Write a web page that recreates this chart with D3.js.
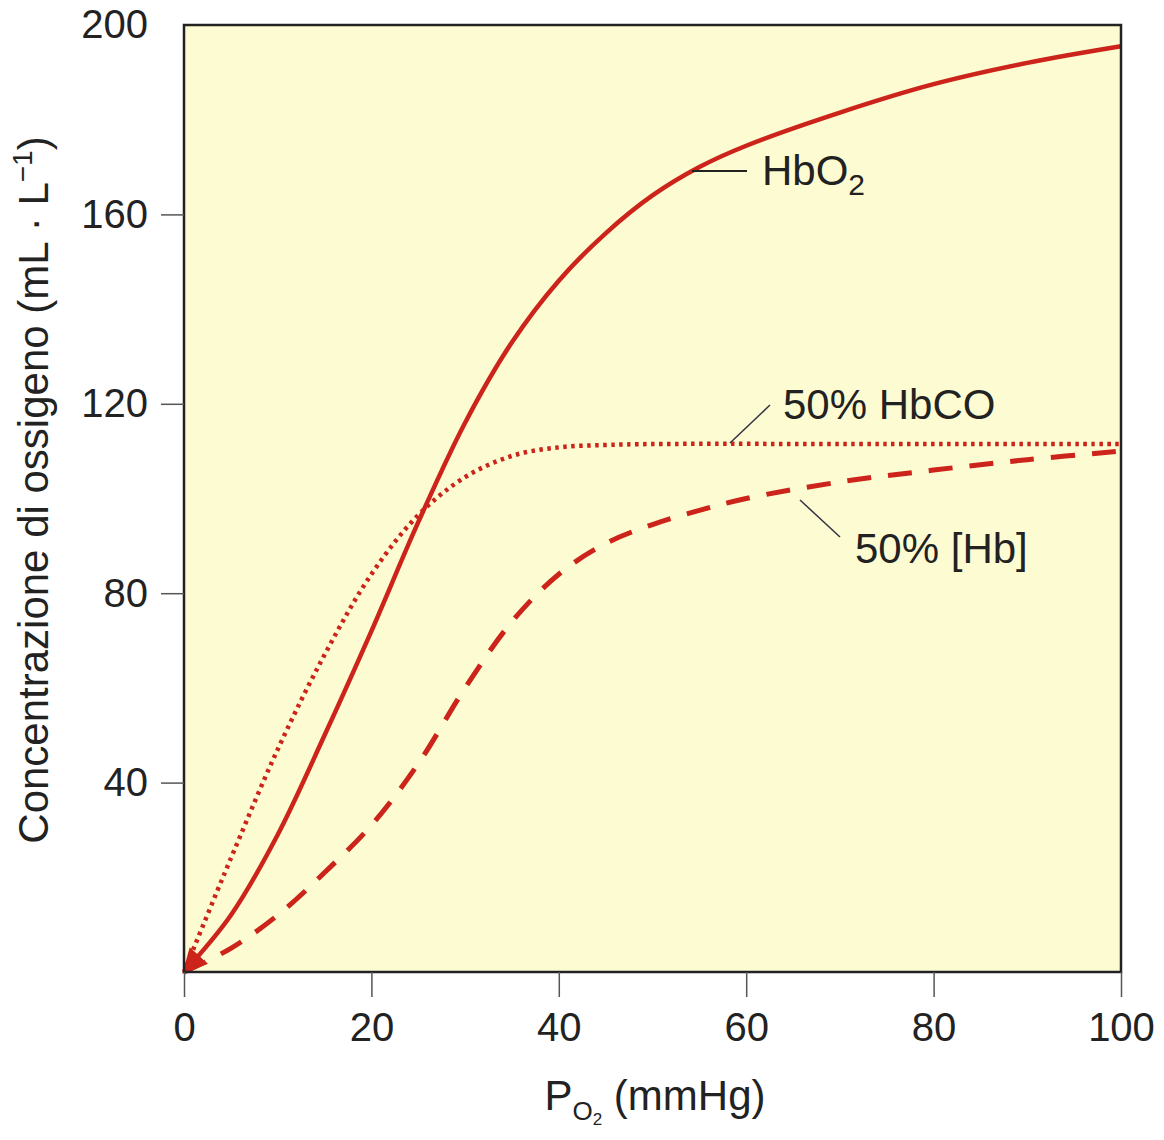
<!DOCTYPE html>
<html><head><meta charset="utf-8">
<script src="https://cdn.jsdelivr.net/npm/d3@7"></script>
<style>body{margin:0;background:#fff}</style>
</head><body>
<svg id="c" width="1164" height="1140"></svg>
<script>
const xTicks = [0, 20, 40, 60, 80, 100];
const yTicks = [40, 80, 120, 160, 200];
const hbo2 = [[0,0],[5,12],[10,29],[15,50],[20,72],[25,95],[30,116],[35,133],[40,146],[45,156],[50,164],[55,170],[60,174.5],[70,181.5],[80,187.5],[90,192],[100,195.5]];
const hbco = [[0,0],[5,24],[10,47],[15,67],[20,84],[25,96.5],[30,104.5],[35,109],[40,110.8],[45,111.3],[50,111.5],[75,111.5],[100,111.5]];
const hbHalf = [[0,0],[5,5],[10,12],[15,21],[20,31],[25,44],[30,60],[35,74],[40,84],[45,90.5],[50,94.5],[55,97.5],[60,100],[70,103.5],[80,106],[90,108.2],[100,110]];

const svg = d3.select("#c");
const L = 184, T = 25, R = 1121, B = 972;
const x = d3.scaleLinear().domain([0,100]).range([L,R]);
const y = d3.scaleLinear().domain([0,200]).range([B,T]);
const red = "#cc231b";
const font = "'Liberation Sans', Arial, sans-serif";

svg.append("rect").attr("x",L).attr("y",T).attr("width",R-L).attr("height",B-T).attr("fill","#fdfbd1");

const defs = svg.append("defs");
defs.append("marker").attr("id","arr").attr("viewBox","0 0 10 10").attr("refX",9).attr("refY",5)
  .attr("markerWidth",5.5).attr("markerHeight",5.5).attr("orient","auto-start-reverse")
  .attr("markerUnits","strokeWidth")
  .append("path").attr("d","M0,0 L10,5 L0,10 z").attr("fill",red);

const line = d3.line().x(d=>x(d[0])).y(d=>y(d[1])).curve(d3.curveCatmullRom.alpha(0.5));
svg.append("path").datum(hbHalf).attr("d",line).attr("fill","none").attr("stroke",red).attr("stroke-width",5).attr("stroke-dasharray","24,17");
svg.append("path").datum(hbco).attr("d",line).attr("fill","none").attr("stroke",red).attr("stroke-width",4.5).attr("stroke-dasharray","3.5,4.5");
svg.append("path").datum(hbo2).attr("d",line).attr("fill","none").attr("stroke",red).attr("stroke-width",4.5).attr("marker-start","url(#arr)");

// frame
svg.append("rect").attr("x",L).attr("y",T).attr("width",R-L).attr("height",B-T).attr("fill","none").attr("stroke","#222").attr("stroke-width",2.5);

// axes
const xa = svg.append("g").attr("transform",`translate(0,${B})`).call(d3.axisBottom(x).tickValues(xTicks).tickSize(25).tickPadding(16).tickFormat(d3.format("d")));
const ya = svg.append("g").attr("transform",`translate(${L},0)`).call(d3.axisLeft(y).tickValues(yTicks).tickSize(23).tickPadding(13).tickFormat(d3.format("d")));
[xa,ya].forEach(g=>{
  g.select(".domain").remove();
  g.selectAll(".tick line").attr("stroke","#555").attr("stroke-width",1.5);
  g.selectAll(".tick text").attr("font-family",font).attr("font-size",40).attr("fill","#222");
});
ya.selectAll(".tick").filter(d=>d===200).select("line").remove();

// axis titles
svg.append("text").attr("transform",`translate(48,${490}) rotate(-90)`).attr("text-anchor","middle")
  .attr("font-family",font).attr("font-size",42).attr("fill","#222")
  .html('Concentrazione di ossigeno (mL · L<tspan dy="-16" font-size="28">−1</tspan><tspan dy="16">)</tspan>');
svg.append("text").attr("x",655).attr("y",1110).attr("text-anchor","middle")
  .attr("font-family",font).attr("font-size",42).attr("fill","#222")
  .html('P<tspan dy="10" font-size="26">O</tspan><tspan dy="5" font-size="17">2</tspan><tspan dy="-15"> (mmHg)</tspan>');

// annotations
const ann = svg.append("g").attr("font-family",font).attr("font-size",42).attr("fill","#222");
svg.append("line").attr("x1",692).attr("y1",171).attr("x2",747).attr("y2",171).attr("stroke","#222").attr("stroke-width",2);
ann.append("text").attr("x",762).attr("y",185).html('HbO<tspan dy="10" font-size="30">2</tspan>');
svg.append("line").attr("x1",730).attr("y1",443).attr("x2",770).attr("y2",405).attr("stroke","#334").attr("stroke-width",1.5);
ann.append("text").attr("x",783).attr("y",419).text("50% HbCO");
svg.append("line").attr("x1",800).attr("y1",500).attr("x2",840).attr("y2",537).attr("stroke","#334").attr("stroke-width",1.5);
ann.append("text").attr("x",855).attr("y",563).text("50% [Hb]");
</script>
</body></html>
